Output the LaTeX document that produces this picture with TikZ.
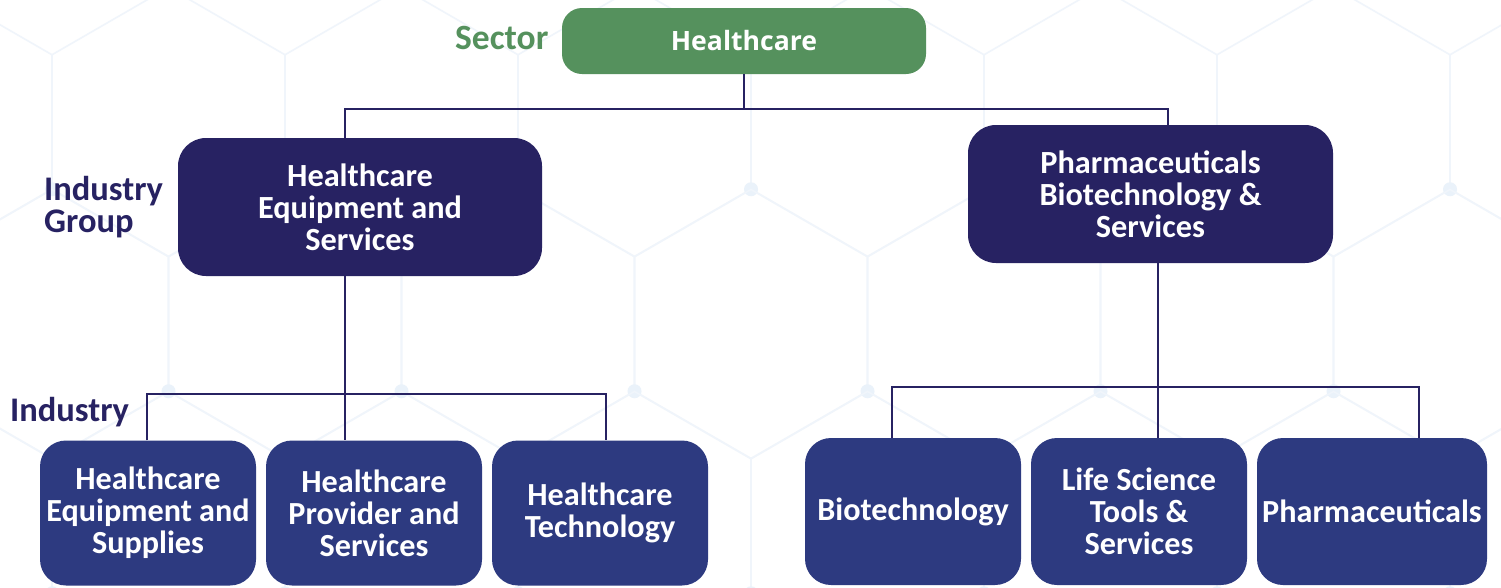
\documentclass[tikz,border=0pt]{standalone}
\usepackage{fontspec}
\setmainfont{Carlito}
\newfontfamily\headfont{Open Sans}

\definecolor{sectorgreen}{HTML}{55915D}
\definecolor{groupnavy}{HTML}{272262}
\definecolor{industryblue}{HTML}{2D3A80}
\definecolor{hexline}{HTML}{F0F5FB}
\definecolor{hexdot}{HTML}{EAF2FA}

\begin{document}
\begin{tikzpicture}[x=1pt,y=-1pt,
  hexedge/.style={draw=hexline, line width=1.6pt},
  hexknot/.style={fill=hexdot, draw=none},
  conn/.style={draw=groupnavy, line width=2.8pt},
  sectorbox/.style={rectangle, rounded corners=20pt, fill=sectorgreen, text=white,
    inner sep=0pt, minimum width=364pt, minimum height=66pt,
    font=\headfont\bfseries\fontsize{26.6}{30}\selectfont},
  groupbox/.style={rectangle, rounded corners=28pt, fill=groupnavy, text=white,
    inner sep=0pt, minimum width=364pt, minimum height=138pt, align=center,
    font=\bfseries\fontsize{32.3}{32}\selectfont},
  industrybox/.style={rectangle, rounded corners=26pt, fill=industryblue, text=white,
    inner sep=0pt, minimum width=216pt, minimum height=145pt, align=center,
    font=\bfseries\fontsize{32.2}{32}\selectfont},
  levellabel/.style={inner sep=0pt, align=left, anchor=west,
    font=\bfseries\fontsize{34.5}{32}\selectfont},
]
% canvas
\useasboundingbox (0,0) rectangle (1501,587);
\fill[white] (0,0) rectangle (1501,587);

% faint hexagonal backdrop
\begin{scope}
\clip (0,0) rectangle (1501,587);
\foreach \r in {0,1,2,3}{
  \foreach \c in {-1,...,6}{
    \pgfmathsetmacro\cx{168.5+233*\c+mod(\r,2)*116.5}
    \pgfmathsetmacro\cy{122+202*\r}
    \draw[hexedge] (\cx,\cy) +(30:134.5) -- +(90:134.5) -- +(150:134.5)
      -- +(210:134.5) -- +(270:134.5) -- +(330:134.5) -- cycle;
    \fill[hexknot] (\cx,\cy) +(150:134.5) circle (7);
  }
}
\end{scope}

% sector
\node[sectorbox] (sector) at (744,41) {Healthcare};
\node[levellabel, text=sectorgreen, font=\bfseries\fontsize{35.5}{32}\selectfont] (sectorlbl) at (455,38) {Sector};

% industry groups
\node[groupbox] (hes) at (360,207) {Healthcare\\Equipment and\\Services};
\node[groupbox, minimum width=365pt] (pbs) at (1150.5,194) {Pharmaceuticals\\Biotechnology \&\\Services};
\node[levellabel, text=groupnavy] (grouplbl) at (44,207) {Industry\\Group};

% industries
\node[industrybox] (hcs) at (148,513) {Healthcare\\Equipment and\\Supplies};
\node[industrybox] (hps) at (374,513) {Healthcare\\Provider and\\Services};
\node[industrybox] (hct) at (600,513) {Healthcare\\Technology};
\node[industrybox, minimum height=147pt] (bio) at (913,511.5) {Biotechnology};
\node[industrybox, minimum height=147pt] (lst) at (1139,511.5) {Life Science\\Tools \&\\Services};
\node[industrybox, minimum height=147pt, minimum width=230pt] (pha) at (1372,511.5) {Pharmaceuticals};
\node[levellabel, text=groupnavy] (indlbl) at (10,412) {Industry};

% junctions
\coordinate (j0) at (744,109);
\coordinate (j1) at (345,394);
\coordinate (j2) at (1158,387);

% connectors
\draw[conn] (sector.south) -- (j0);
\draw[conn] ([xshift=-15pt]hes.north) |- (j0) -| ([xshift=17.5pt]pbs.north);

\draw[conn] ([xshift=-15pt]hes.south) -- ([xshift=-29pt]hps.north);
\draw[conn] ([xshift=-1pt]hcs.north) |- (j1) -| ([xshift=6pt]hct.north);

\draw[conn] ([xshift=7.5pt]pbs.south) -- ([xshift=19pt]lst.north);
\draw[conn] ([xshift=-21pt]bio.north) |- (j2) -| ([xshift=47pt]pha.north);
\end{tikzpicture}
\end{document}
